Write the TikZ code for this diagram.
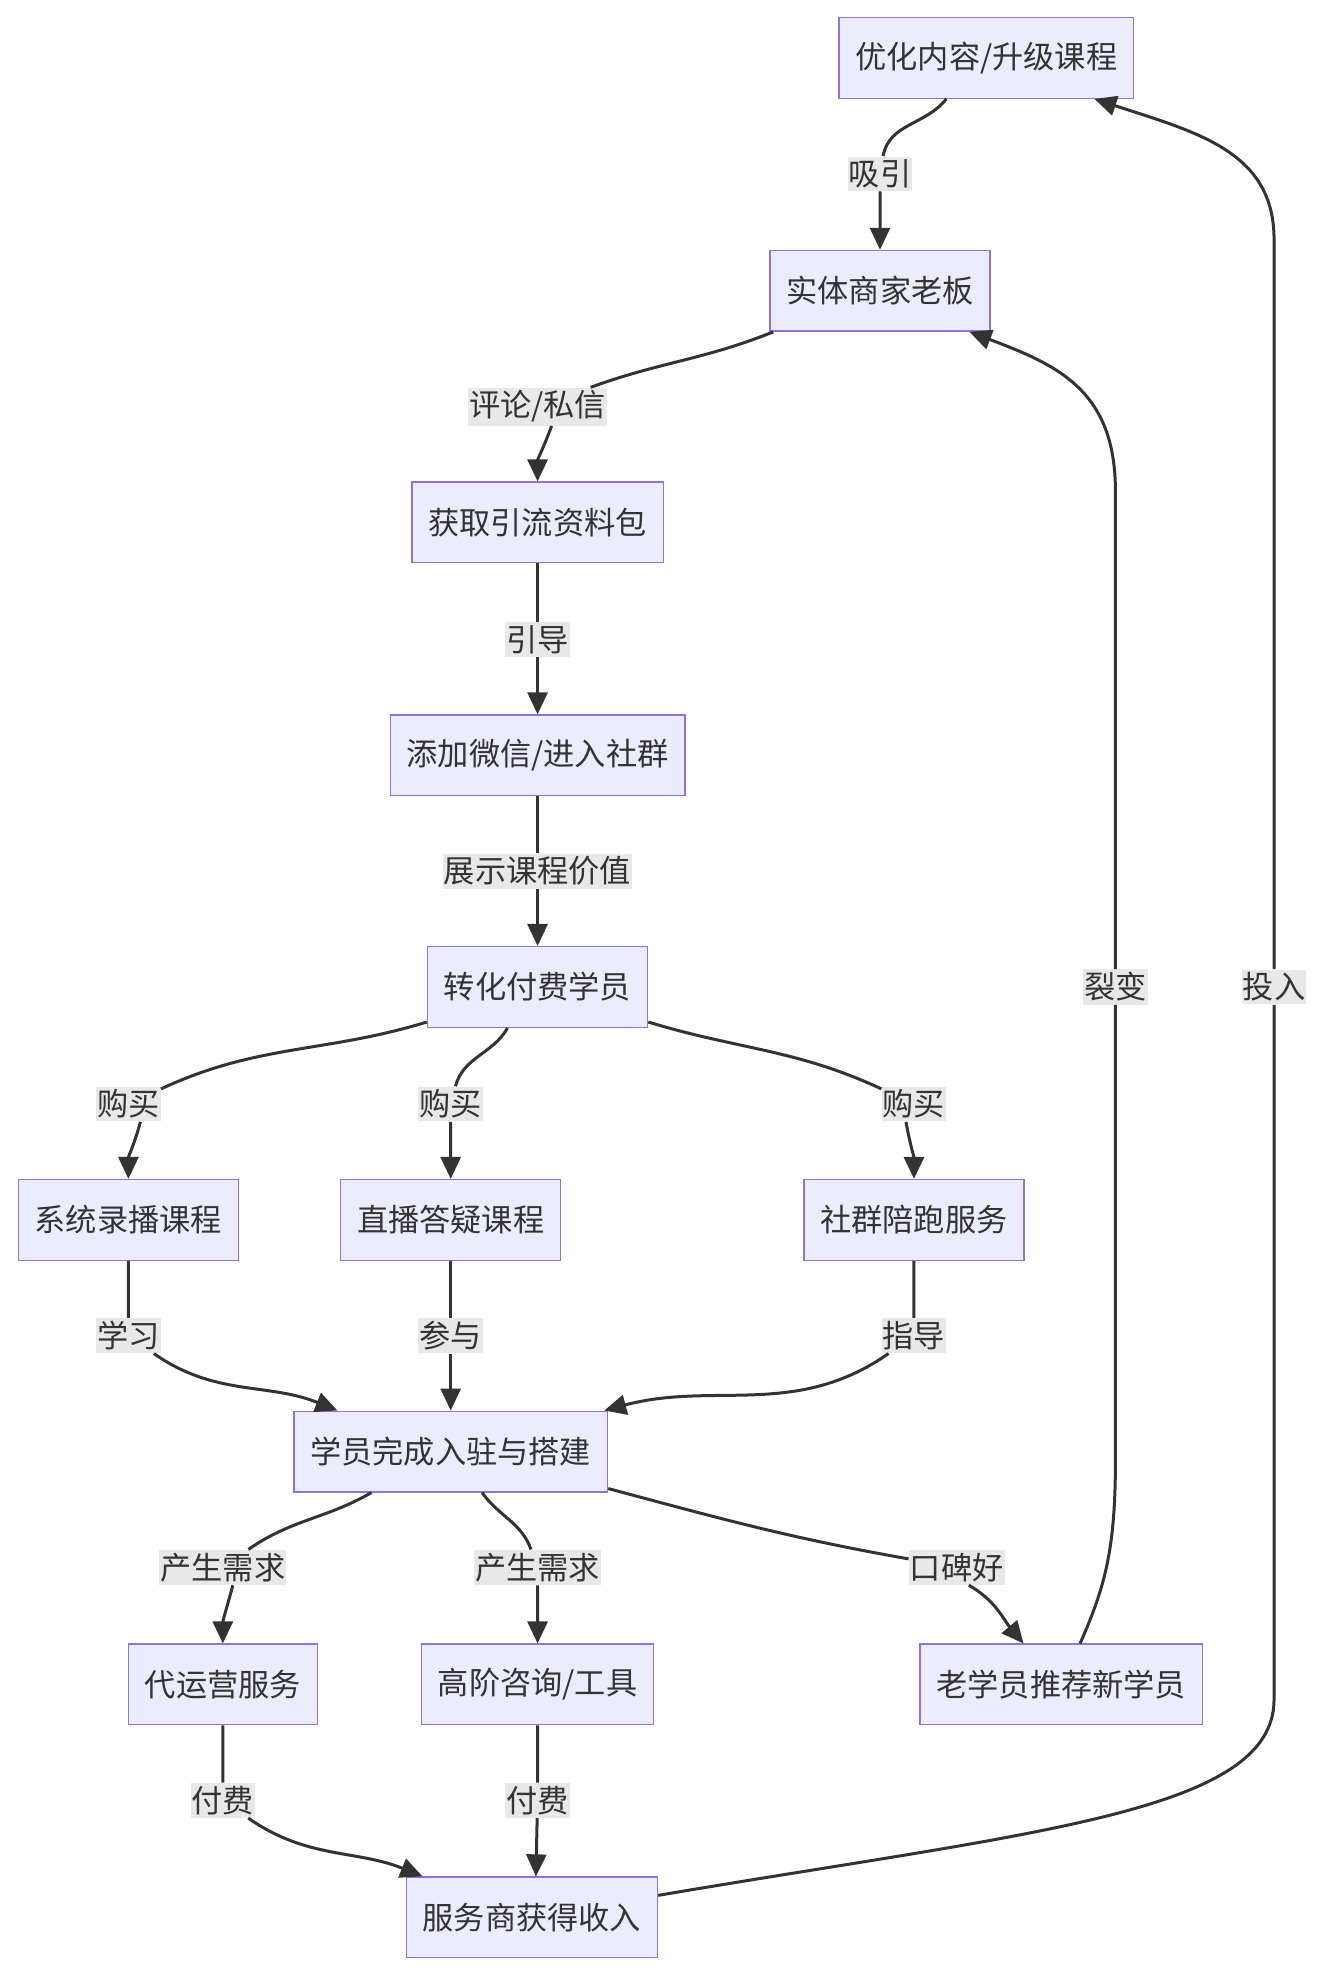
\documentclass[tikz,border=0pt]{standalone}
\usepackage{fontspec}
\setmainfont{Noto Sans CJK SC}
\usetikzlibrary{arrows.meta}
\usetikzlibrary{positioning}
\definecolor{boxfill}{HTML}{ECECFF}
\definecolor{boxline}{HTML}{9370DB}
\definecolor{inkgrey}{HTML}{333333}
\definecolor{lblfill}{HTML}{E8E8E8}

\begin{document}
\begin{tikzpicture}[
    x=0.6293pt, y=-0.6293pt,
    font=\fontsize{15.6}{18}\selectfont\color{inkgrey},
    box/.style={draw=boxline, fill=boxfill, line width=0.7pt, minimum height=40.3pt,
      inner xsep=8.2pt, inner ysep=0pt},
    lbl/.style={fill=lblfill, inner xsep=0.5pt, inner ysep=1.5pt},
    edge/.style={draw=inkgrey, line width=1.5pt, -{Triangle[length=11pt,width=10pt]}},
  ]
  \useasboundingbox (0,0) rectangle (1052,1568);

  % === Boxes ===
  \node[box] (optim) at (783.5,46) {优化内容/升级课程};
  \node[box] (boss) at (699,231) {实体商家老板};
  \node[box] (leadpack) at (427,415) {获取引流资料包};
  \node[box] (wechat) at (427,600) {添加微信/进入社群};
  \node[box] (convert) at (427,784) {转化付费学员};
  \node[box] (recorded) at (102,969) {系统录播课程};
  \node[box] (live) at (358,969) {直播答疑课程};
  \node[box] (community) at (726,969) {社群陪跑服务};
  \node[box] (setup) at (358,1153) {学员完成入驻与搭建};
  \node[box] (operate) at (177,1338) {代运营服务};
  \node[box] (consult) at (427,1338) {高阶咨询/工具};
  \node[box] (referral) at (843,1338) {老学员推荐新学员};
  \node[box] (income) at (422.5,1523) {服务商获得收入};

  % === Edge labels ===
  \node[lbl] (lAttract) at (699,138) {吸引};
  \node[lbl] (lComment) at (427,323) {评论/私信};
  \node[lbl] (lGuide) at (427,508) {引导};
  \node[lbl] (lShow) at (427,692) {展示课程价值};
  \node[lbl] (lBuyA) at (102,877) {购买};
  \node[lbl] (lBuyB) at (358,877) {购买};
  \node[lbl] (lBuyC) at (726,877) {购买};
  \node[lbl] (lStudy) at (102,1061) {学习};
  \node[lbl] (lJoin) at (358,1061) {参与};
  \node[lbl] (lCoach) at (726,1061) {指导};
  \node[lbl] (lNeedA) at (177,1245) {产生需求};
  \node[lbl] (lNeedB) at (427,1245) {产生需求};
  \node[lbl] (lPraise) at (760,1245) {口碑好};
  \node[lbl] (lPayA) at (177,1430) {付费};
  \node[lbl] (lPayB) at (427,1430) {付费};
  \node[lbl] (lSplit) at (886,784) {裂变};
  \node[lbl] (lInvest) at (1012,784) {投入};

  % === Main funnel ===
  \draw[edge] ([xshift=-20pt]optim.south) to[out=-128,in=80] (lAttract)
    -- (boss.north);
  \draw[edge] ([xshift=2pt]boss.south west) to[out=-158,in=20] (lComment)
    ([xshift=7pt]lComment.south) to[out=-110,in=90] (leadpack.north);
  \draw[edge] (leadpack) -- (lGuide) -- (wechat);
  \draw[edge] (wechat) -- (lShow) -- (convert);

  % === Products ===
  \draw[edge] ([yshift=3pt]convert.south west) to[out=-163,in=25] (lBuyA)
    ([xshift=6pt]lBuyA.south) to[out=-105,in=90] (recorded.north);
  \draw[edge] ([xshift=-15pt]convert.south) to[out=-120,in=75] (lBuyB)
    -- (live.north);
  \draw[edge] ([yshift=3pt]convert.south east) to[out=-17,in=155] (lBuyC)
    ([xshift=-4pt]lBuyC.south) to[out=-80,in=90] (community.north);

  \draw[edge] (recorded) -- (lStudy)
    (lStudy) to[out=-35,in=158] ([xshift=-56.6pt]setup.north);
  \draw[edge] (live) -- (lJoin) -- (setup);
  \draw[edge] (community) -- (lCoach)
    (lCoach) to[out=-145,in=15] ([xshift=-2pt]setup.north east);

  % === Follow-up ===
  \draw[edge] ([xshift=-39.6pt]setup.south) to[out=-150,in=35] (lNeedA)
    ([xshift=5pt]lNeedA.south) to[out=-105,in=90] (operate.north);
  \draw[edge] ([xshift=15.7pt]setup.south) to[out=-55,in=110] (lNeedB)
    -- (consult.north);
  \draw[edge] ([yshift=2pt]setup.south east) to[out=-15,in=170] (lPraise)
    ([xshift=6pt]lPraise.south) to[out=-30,in=130] ([xshift=-18.9pt]referral.north);

  \draw[edge] (operate) -- (lPayA)
    (lPayA) to[out=-35,in=158] ([xshift=-54.7pt]income.north);
  \draw[edge] (consult) -- (lPayB) -- ([xshift=2pt]income.north);

  % === Loops back ===
  \draw[edge] ([xshift=9.4pt]referral.north) .. controls (878,1260) and (886,1230) .. (886,1160)
    -- (lSplit) -- (886,390) .. controls (886,310) and (840,290) .. ([xshift=44.7pt]boss.south);
  \draw[edge] ([yshift=11pt]income.east) .. controls (820,1455) and (1012,1440) .. (1012,1350)
    -- (lInvest) -- (1012,190) .. controls (1012,120) and (950,105) .. ([xshift=54pt]optim.south);

\end{tikzpicture}
\end{document}
